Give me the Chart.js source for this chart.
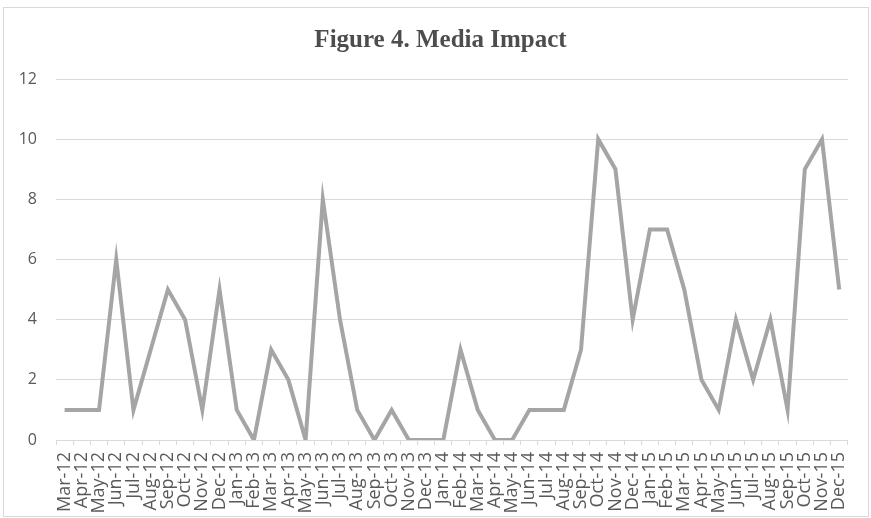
<!DOCTYPE html>
<html>
<head>
<meta charset="utf-8">
<script src="https://cdn.jsdelivr.net/npm/chart.js@4/dist/chart.umd.min.js"></script>
<style>
  html, body { margin: 0; padding: 0; background: #fff; }
  .chart-box {
    position: absolute;
    left: 3px; top: 7px;
    width: 866px; height: 510px;
    border: 1px solid #d9d9d9;
    box-sizing: border-box;
  }
</style>
</head>
<body>
<div class="chart-box"><canvas id="mediaChart"></canvas></div>
<script>
// Media mentions per month
const months = [
  'Mar-12','Apr-12','May-12','Jun-12','Jul-12','Aug-12','Sep-12','Oct-12','Nov-12','Dec-12',
  'Jan-13','Feb-13','Mar-13','Apr-13','May-13','Jun-13','Jul-13','Aug-13','Sep-13','Oct-13','Nov-13','Dec-13',
  'Jan-14','Feb-14','Mar-14','Apr-14','May-14','Jun-14','Jul-14','Aug-14','Sep-14','Oct-14','Nov-14','Dec-14',
  'Jan-15','Feb-15','Mar-15','Apr-15','May-15','Jun-15','Jul-15','Aug-15','Sep-15','Oct-15','Nov-15','Dec-15'
];
const impact = [
  1, 1, 1, 6, 1, 3, 5, 4, 1, 5,
  1, 0, 3, 2, 0, 8, 4, 1, 0, 1, 0, 0,
  0, 3, 1, 0, 0, 1, 1, 1, 3, 10, 9, 4,
  7, 7, 5, 2, 1, 4, 2, 4, 1, 9, 10, 5
];
const yTicks = [0, 2, 4, 6, 8, 10, 12];

const tickFont = '"Open Sans", sans-serif';

// nudge the title so it sits centred over the plot like the original
const titleShift = {
  id: 'titleShift',
  afterLayout(chart) {
    if (chart.titleBlock) chart.titleBlock.left += 26;
  }
};

const ctx = document.getElementById('mediaChart').getContext('2d');
const mediaChart = new Chart(ctx, {
  type: 'line',
  data: {
    labels: months,
    datasets: [{
      label: 'Media Impact',
      data: impact,
      borderColor: '#a5a5a5',
      borderWidth: 4,
      pointRadius: 0,
      tension: 0,
      borderJoinStyle: 'miter'
    }]
  },
  options: {
    responsive: true,
    maintainAspectRatio: false,
    animation: false,
    layout: { padding: { left: 0, right: 17, top: 0, bottom: 0 } },
    plugins: {
      legend: { display: false },
      tooltip: { enabled: false },
      title: {
        display: true,
        text: 'Figure 4. Media Impact',
        color: '#4d4d4d',
        font: { family: '"Liberation Serif", "Times New Roman", serif', size: 25, weight: 'bold', lineHeight: 1.2 },
        padding: { top: 18, bottom: 23 }
      }
    },
    scales: {
      x: {
        offset: true,
        afterFit: axis => { axis.height = 76; },
        grid: { display: true, drawOnChartArea: false, offset: true, tickLength: 5, color: '#d9d9d9' },
        border: { color: '#d9d9d9' },
        ticks: {
          autoSkip: false,
          maxRotation: 90,
          minRotation: 90,
          color: '#595959',
          padding: 7,
          font: { family: tickFont, size: 18 }
        }
      },
      y: {
        min: 0,
        max: 12,
        afterBuildTicks: axis => { axis.ticks = yTicks.map(v => ({ value: v })); },
        afterFit: axis => { axis.width = 52; },
        grid: { color: '#d9d9d9', drawTicks: false },
        border: { display: false },
        ticks: {
          color: '#595959',
          padding: 19,
          font: { family: tickFont, size: 16 }
        }
      }
    }
  },
  plugins: [titleShift]
});
</script>
</body>
</html>
